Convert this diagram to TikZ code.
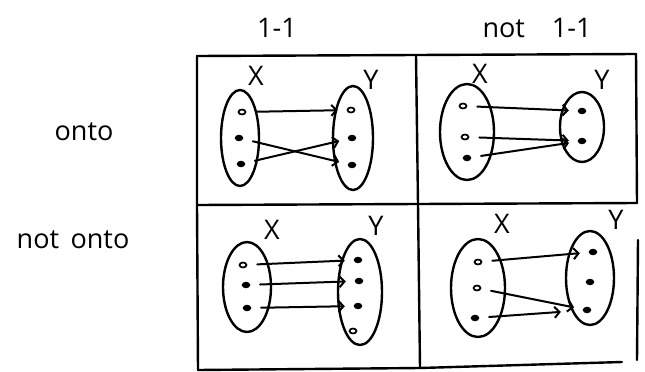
\documentclass[tikz,border=0pt]{standalone}
\usepackage{fontspec}
\setmainfont{Open Sans}
\usetikzlibrary{shapes.geometric,arrows.meta}
\begin{document}
\begin{tikzpicture}[x=1pt,y=-1pt,
  pen/.style={line width=2.4pt,line cap=round,line join=round},
  setov/.style={pen,draw,ellipse,inner sep=0pt},
  fdot/.style={draw,fill,ellipse,inner sep=0pt,minimum width=7pt,minimum height=5pt,line width=1.4pt},
  odot/.style={draw,ellipse,inner sep=0pt,minimum width=7pt,minimum height=5pt,line width=1.7pt},
  maparrow/.style={line width=2pt,line cap=round,-{Straight Barb[length=5pt,width=11pt,line width=2pt]},shorten <=10pt,shorten >=9pt},
  hand/.style={font=\fontsize{27}{30}\selectfont},
  setlbl/.style={font=\fontsize{27}{30}\selectfont}]
\useasboundingbox (0,0) rectangle (645,372);

% headers
\node[hand] (h1) at (277,28) {1-1};
\node[hand] (h2) at (537,28) {not\quad 1-1};
\node[hand] (r1) at (84,132) {onto};
\node[hand] (r2) at (73,240) {not\ \,onto};

% grid
\coordinate (g00) at (197,56);
\coordinate (g10) at (416,55);
\coordinate (g20) at (636,54);
\coordinate (g01) at (197,205);
\coordinate (g11) at (418,204);
\coordinate (g21) at (637,203);
\coordinate (g02) at (198,370);
\coordinate (g12) at (420,368);
\coordinate (g22) at (622,362);
\coordinate (gr1) at (638,240);
\coordinate (gr2) at (637,360);
\draw[pen] (g00) -- (g10) -- (g20);
\draw[pen] (g01) -- (g11) -- (g21);
\draw[pen] (g02) -- (g12) -- (g22);
\draw[pen] (g00) -- (g01) -- (g02);
\draw[pen] (g10) -- (g11) -- (g12);
\draw[pen] (g20) -- (g21);
\draw[pen] (gr1) -- (gr2);

% ---- top-left: 1-1 and onto
\node[setov,minimum width=38pt,minimum height=96pt] (aX) at (240,138) {};
\node[setov,minimum width=40pt,minimum height=104pt] (aY) at (353,138) {};
\node[setlbl] (aXl) at (256,76) {X};
\node[setlbl] (aYl) at (371,80) {Y};
\node[odot] (ax1) at (242,112) {};
\node[fdot] (ax2) at (239,138) {};
\node[fdot] (ax3) at (241,164) {};
\node[odot] (ay1) at (351,110) {};
\node[fdot] (ay2) at (352,138) {};
\node[fdot] (ay3) at (352,165) {};
\draw[maparrow] (ax1) -- (ay1);
\draw[maparrow] (ax2) -- (ay3);
\draw[maparrow] (ax3) -- (ay2);

% ---- top-right: not 1-1 and onto
\node[setov,minimum width=54pt,minimum height=96pt] (bX) at (467,132) {};
\node[setov,minimum width=44pt,minimum height=70pt] (bY) at (582,127) {};
\node[setlbl] (bXl) at (480,74) {X};
\node[setlbl] (bYl) at (602,80) {Y};
\node[odot] (bx1) at (463,106) {};
\node[odot] (bx2) at (465,137) {};
\node[fdot] (bx3) at (467,158) {};
\node[fdot] (by1) at (582,111) {};
\node[fdot] (by2) at (582,141) {};
\draw[maparrow] (bx1) -- (by1);
\draw[maparrow] (bx2) -- (by2);
\draw[maparrow] (bx3) -- (by2);

% ---- bottom-left: 1-1 and not onto
\node[setov,minimum width=48pt,minimum height=90pt] (cX) at (247,287) {};
\node[setov,minimum width=44pt,minimum height=106pt] (cY) at (360,292) {};
\node[setlbl] (cXl) at (272,230) {X};
\node[setlbl] (cYl) at (376,226) {Y};
\node[odot] (cx1) at (243,265) {};
\node[fdot] (cx2) at (246,285) {};
\node[fdot] (cx3) at (247,308) {};
\node[fdot] (cy1) at (358,260) {};
\node[fdot] (cy2) at (359,281) {};
\node[fdot] (cy3) at (358,306) {};
\node[odot] (cy4) at (353,331) {};
\draw[maparrow] (cx1) -- (cy1);
\draw[maparrow] (cx2) -- (cy2);
\draw[maparrow] (cx3) -- (cy3);

% ---- bottom-right: not 1-1 and not onto
\node[setov,minimum width=54pt,minimum height=98pt] (dX) at (478,288) {};
\node[setov,minimum width=48pt,minimum height=94pt] (dY) at (590,278) {};
\node[setlbl] (dXl) at (502,224) {X};
\node[setlbl] (dYl) at (616,220) {Y};
\node[odot] (dx1) at (478,262) {};
\node[odot] (dx2) at (477,288) {};
\node[fdot] (dx3) at (475,318) {};
\node[fdot] (dy1) at (593,252) {};
\node[fdot] (dy2) at (590,282) {};
\node[fdot] (dy3) at (587,310) {};
\draw[maparrow] (dx1) -- (dy1);
\draw[maparrow] (dx2) -- (dy3);
\draw[maparrow,shorten >=22pt] (dx3) -- (dy3);
\end{tikzpicture}
\end{document}
